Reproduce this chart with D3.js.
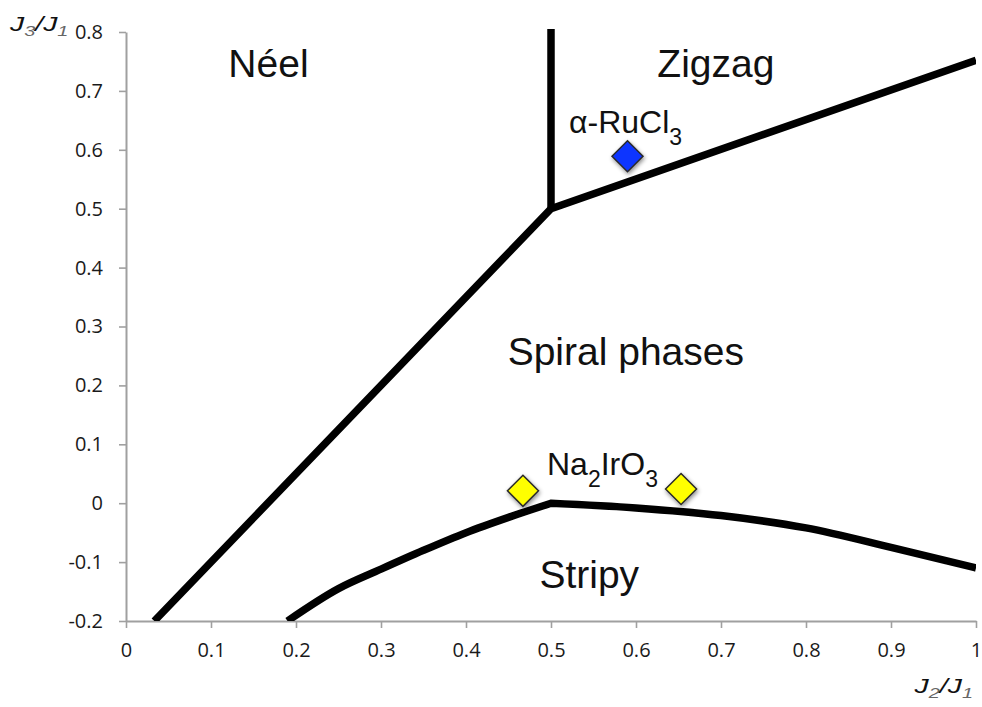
<!DOCTYPE html>
<html>
<head>
<meta charset="utf-8">
<script src="https://cdn.jsdelivr.net/npm/d3@7"></script>
<style>
  html, body { margin: 0; padding: 0; background: #fff; }
  svg { display: block; }
</style>
</head>
<body>
<svg id="chart" width="982" height="707"></svg>
<script>
// Phase diagram of the J1-J2-J3 honeycomb model (J2/J1 vs J3/J1)

// Axis ticks
const xTicks = [0, 0.1, 0.2, 0.3, 0.4, 0.5, 0.6, 0.7, 0.8, 0.9, 1];
const xTickLabels = ["0", "0.1", "0.2", "0.3", "0.4", "0.5", "0.6", "0.7", "0.8", "0.9", "1"];
const yTicks = [-0.2, -0.1, 0, 0.1, 0.2, 0.3, 0.4, 0.5, 0.6, 0.7, 0.8];
const yTickLabels = ["-0.2", "-0.1", "0", "0.1", "0.2", "0.3", "0.4", "0.5", "0.6", "0.7", "0.8"];

// Phase boundaries [J2/J1, J3/J1]
const neelSpiralBoundary = [[0.0333, -0.2], [0.5, 0.5]];
const neelZigzagBoundary = [[0.5, 0.5], [0.5, 0.805]];
const zigzagSpiralBoundary = [[0.5, 0.5], [1.0, 0.752]];
const stripyBoundaryLeft = [[0.19, -0.2], [0.25, -0.145], [0.3, -0.112], [0.35, -0.08], [0.4, -0.05], [0.45, -0.024], [0.5, 0]];
const stripyBoundaryRight = [[0.5, 0], [0.6, -0.008], [0.7, -0.021], [0.8, -0.042], [0.9, -0.075], [1.0, -0.11]];

// Materials [J2/J1, J3/J1]
const rucl3Points = [[0.59, 0.589]];
const na2iro3Points = [[0.467, 0.021], [0.653, 0.024]];

// Phase names
const phaseNames = ["Néel", "Zigzag", "Spiral phases", "Stripy"];

const svg = d3.select("#chart");
const W = 982, H = 707;
const margin = { left: 126, right: 6, top: 32, bottom: 86 };

const x = d3.scaleLinear().domain([0, 1]).range([margin.left, W - margin.right]);
const y = d3.scaleLinear().domain([-0.2, 0.8]).range([H - margin.bottom, margin.top]);

const defs = svg.append("defs");
defs.append("clipPath").attr("id", "plotClip")
  .append("rect")
  .attr("x", x(0)).attr("y", y(0.8) - 4)
  .attr("width", x(1) - x(0)).attr("height", y(-0.2) - y(0.8) + 4);

const shadow = defs.append("filter").attr("id", "markShadow")
  .attr("x", "-50%").attr("y", "-50%").attr("width", "200%").attr("height", "200%");
shadow.append("feDropShadow")
  .attr("dx", 1).attr("dy", 2).attr("stdDeviation", 2)
  .attr("flood-color", "#000").attr("flood-opacity", 0.45);

// Axes
const tickFont = "'Open Sans', 'DejaVu Sans', sans-serif";
const axisColor = "#a0a0a0";

const xAxis = d3.axisBottom(x).tickValues(xTicks)
  .tickFormat((d, i) => xTickLabels[i]).tickSizeOuter(0).tickSizeInner(7).tickPadding(15);
const yAxis = d3.axisLeft(y).tickValues(yTicks)
  .tickFormat((d, i) => yTickLabels[i]).tickSizeOuter(0).tickSizeInner(7).tickPadding(16);

const gx = svg.append("g").attr("transform", `translate(0,${y(-0.2)})`).call(xAxis);
const gy = svg.append("g").attr("transform", `translate(${x(0)},0)`).call(yAxis);
[gx, gy].forEach(g => {
  g.attr("font-size", null).attr("font-family", null);
  g.select(".domain").attr("stroke", axisColor).attr("stroke-width", 2);
  g.selectAll(".tick line").attr("stroke", axisColor).attr("stroke-width", 1.6);
  g.selectAll(".tick text")
    .attr("fill", "#1a1a1a")
    .style("font-family", tickFont)
    .style("font-size", "20px");
});

// Boundaries
const plot = svg.append("g").attr("clip-path", "url(#plotClip)");
const straight = d3.line().x(d => x(d[0])).y(d => y(d[1]));
const smooth = d3.line().x(d => x(d[0])).y(d => y(d[1])).curve(d3.curveMonotoneX);

const lineStyle = sel => sel
  .attr("fill", "none")
  .attr("stroke", "#000")
  .attr("stroke-width", 7.5)
  .attr("stroke-linejoin", "miter");

plot.append("path").attr("d", straight(neelSpiralBoundary) + straight(zigzagSpiralBoundary).replace(/^M/, "L")).call(lineStyle);
plot.append("path").attr("d", straight(neelZigzagBoundary)).attr("stroke-linecap", "butt").call(lineStyle);
plot.append("path")
  .attr("d", smooth(stripyBoundaryLeft) + smooth(stripyBoundaryRight).replace(/^M/, "L"))
  .call(lineStyle);

// Material markers
const diamond = d3.symbol().type(d3.symbolDiamond2).size(2 * 17.5 * 17.5);
const drawMarkers = (pts, fill) => svg.append("g").selectAll("path")
  .data(pts).join("path")
  .attr("d", diamond)
  .attr("transform", d => `translate(${x(d[0])},${y(d[1])})`)
  .attr("fill", fill)
  .attr("stroke", "#2a2a2a")
  .attr("stroke-width", 1.5)
  .attr("filter", "url(#markShadow)");
drawMarkers(rucl3Points, "#1036ff");
drawMarkers(na2iro3Points, "#ffff00");

// Phase labels
const labelFont = "'Liberation Sans', Arial, Helvetica, sans-serif";
const phaseAnchors = [[0.1676, 0.7236], [0.694, 0.7236], [0.588, 0.2346], [0.545, -0.144]];
svg.append("g").selectAll("text")
  .data(phaseNames).join("text")
  .attr("x", (d, i) => x(phaseAnchors[i][0]))
  .attr("y", (d, i) => y(phaseAnchors[i][1]))
  .attr("text-anchor", "middle")
  .style("font-family", labelFont)
  .style("font-size", "39px")
  .attr("fill", "#111")
  .text(d => d);

// Material labels with subscripts
function chemLabel(parts, px, py) {
  const t = svg.append("text")
    .attr("x", px).attr("y", py)
    .style("font-family", labelFont)
    .style("font-size", "32px")
    .attr("fill", "#111");
  parts.forEach(p => {
    t.append("tspan")
      .attr("dy", p.sub ? 12 : (p.after ? -12 : 0))
      .style("font-size", p.sub ? "23px" : null)
      .text(p.t);
  });
}
chemLabel([{ t: "α-RuCl" }, { t: "3", sub: true }], 569, 133);
chemLabel([{ t: "Na" }, { t: "2", sub: true }, { t: "IrO", after: true }, { t: "3", sub: true }], 547, 475);

// Axis titles: J3/J1 and J2/J1 (wide italic lettering)
function ratioTitle(num, den, px, py, anchor) {
  const g = svg.append("g").attr("transform", `translate(${px},${py}) scale(1.42,1)`);
  const t = g.append("text")
    .attr("x", 0).attr("y", 0)
    .attr("text-anchor", anchor)
    .style("font-family", labelFont)
    .style("font-style", "italic")
    .style("font-size", "20px")
    .attr("fill", "#111");
  t.append("tspan").text("J");
  t.append("tspan").attr("dy", 5).style("font-size", "14px").attr("fill", "#666").text(num);
  t.append("tspan").attr("dy", -5).text("/J");
  t.append("tspan").attr("dy", 5).style("font-size", "14px").attr("fill", "#666").text(den);
}
ratioTitle("3", "1", 10, 31, "start");
ratioTitle("2", "1", 973, 693, "end");
</script>
</body>
</html>
